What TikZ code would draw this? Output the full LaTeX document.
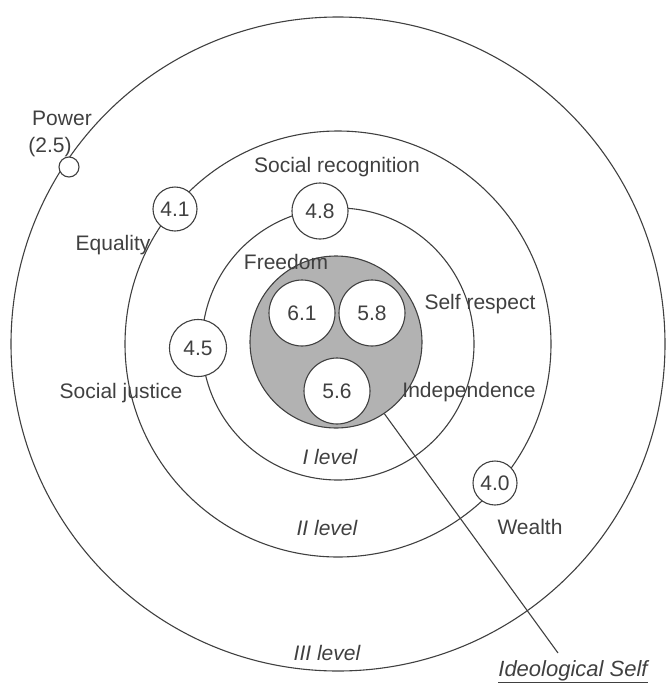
\documentclass[tikz,border=0pt]{standalone}
\usepackage{fontspec}
\setmainfont{Liberation Sans}
\usetikzlibrary{positioning}
\definecolor{ink}{gray}{0.25}
\definecolor{dots}{gray}{0.70}

\begin{document}
\begin{tikzpicture}[
  x=1pt, y=-1pt,
  every node/.style={font=\fontsize{21}{24}\selectfont, text=ink, align=center},
  ring/.style={draw=ink, line width=1.1pt, circle, inner sep=0pt},
  value/.style={ring, fill=white, minimum size=#1},
  level/.style={font=\fontsize{21}{24}\selectfont\itshape}
]
\useasboundingbox (0,0) rectangle (670,686);

% Level rings round one centre
\coordinate (mid) at (338,344);
\node (lvlIII) [ring, minimum size=654pt] at (mid) {};
\node (lvlII) [ring, minimum size=426pt] at (mid) {};
\node (lvlI) [ring, minimum size=272pt] at (mid) {};
\node (core) [ring, fill=dots, minimum size=172pt] at (336,342) {};

% Core values
\node (freev) [value=66pt] at (302,313) {6.1};
\node (respv) [value=66pt] at (372,313) {5.8};
\node (indepv) [value=66pt] at (337,391) {5.6};
\node (free) at (286,262) {Freedom};
\node (resp) at (480,304) {Self respect};
\node (indep) at (469,392) {Independence};

% I level
\node (recogv) [value=56pt] at (320,211) {4.8};
\node (recog) at (337,167) {Social recognition};
\node (justv) [value=57pt] at (198,348) {4.5};
\node (just) at (121,393) {Social justice};
\node (lvlIlab) [level] at (330,457) {I level};

% II level
\node (eqv) [value=44pt] at (175,209) {4.1};
\node (eq) at (113,245) {Equality};
\node (wealthv) [value=44pt] at (495,483) {4.0};
\node (wealth) at (530,527) {Wealth};
\node (lvlIIlab) [level] at (327,528) {II level};

% III level
\node (powerv) [value=20pt] at (69,167) {};
\node (power) at (62,118) {Power};
\node (powern) at (50,147) {(2.5)};
\node (lvlIIIlab) [level] at (327,653) {III level};

% Pointer to the core
\coordinate (tip) at (558,653);
\draw[ink, line width=1.1pt] (core.-56) -- (tip);
\node (ideo) [font=\fontsize{22}{24}\selectfont\itshape] at (573,672) {\underline{Ideological Self}};
\end{tikzpicture}
\end{document}
